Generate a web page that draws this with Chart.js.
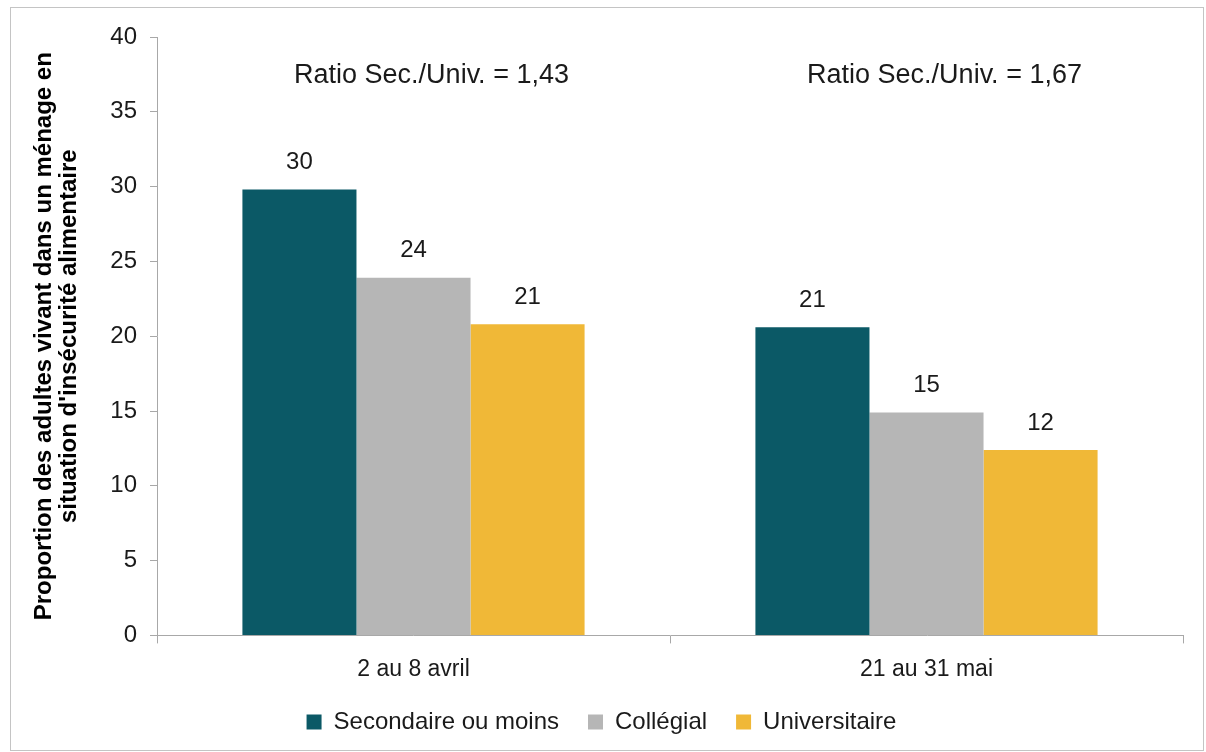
<!DOCTYPE html>
<html>
<head>
<meta charset="utf-8">
<script src="https://cdn.jsdelivr.net/npm/chart.js@4.4.1/dist/chart.umd.min.js"></script>
<style>
    body { margin: 0; background: #fff; }
    #frame { position: absolute; left: 10px; top: 7px; width: 1192px; height: 742px; border: 1px solid #c4c4c4; }
    #wrap { position: absolute; left: 0; top: 0; width: 1206px; height: 752px; }
</style>
</head>
<body>
<div id="frame"></div>
<div id="wrap"><canvas id="chart" width="1206" height="752"></canvas></div>
<script>
let periods = ["2 au 8 avril", "21 au 31 mai"];
let seriesNames = ["Secondaire ou moins", "Collégial", "Universitaire"];
let secondaire = [29.8, 20.6];
let collegial = [23.9, 14.9];
let universitaire = [20.8, 12.4];
let ratioLabels = ["Ratio Sec./Univ. = 1,43", "Ratio Sec./Univ. = 1,67"];
let colors = ["#0b5966", "#b6b6b6", "#f0b837"];

let font = "'Liberation Sans', Arial, sans-serif";

// values above bars + ratio text per group
let labelPlugin = {
    id: "labels",
    afterDatasetsDraw(chart) {
        let ctx = chart.ctx;
        ctx.save();
        ctx.fillStyle = "#1a1a1a";
        ctx.textAlign = "center";
        ctx.textBaseline = "middle";
        ctx.font = "24px " + font;
        chart.data.datasets.forEach((ds, i) => {
            chart.getDatasetMeta(i).data.forEach((bar, j) => {
                ctx.fillText(Math.round(ds.data[j]), bar.x, bar.y - 27);
            });
        });
        ctx.font = "27px " + font;
        let xs = chart.scales.x, ys = chart.scales.y;
        ratioLabels.forEach((t, j) => {
            ctx.fillText(t, xs.getPixelForValue(j) + 18, ys.getPixelForValue(37.4));
        });
        ctx.restore();
    }
};

new Chart(document.getElementById("chart"), {
    type: "bar",
    data: {
        labels: periods,
        datasets: [
            { label: seriesNames[0], data: secondaire, backgroundColor: colors[0] },
            { label: seriesNames[1], data: collegial, backgroundColor: colors[1] },
            { label: seriesNames[2], data: universitaire, backgroundColor: colors[2] }
        ]
    },
    options: {
        responsive: false,
        animation: false,
        devicePixelRatio: 1,
        layout: { padding: { left: 20, right: 23, top: 37, bottom: 8 } },
        datasets: { bar: { categoryPercentage: 0.667, barPercentage: 1.0 } },
        plugins: {
            tooltip: { enabled: false },
            legend: {
                position: "bottom",
                labels: {
                    font: { family: font, size: 24 },
                    color: "#1a1a1a",
                    boxWidth: 15,
                    boxHeight: 15,
                    padding: 29
                }
            }
        },
        scales: {
            y: {
                min: 0,
                max: 40,
                ticks: { stepSize: 5, font: { family: font, size: 24 }, color: "#1a1a1a", padding: 13 },
                grid: { drawOnChartArea: false, tickLength: 7, color: "#a8a8a8" },
                border: { color: "#a8a8a8" },
                title: {
                    display: true,
                    text: ["Proportion des adultes vivant dans un ménage en", "situation d'insécurité alimentaire"],
                    font: { family: font, size: 24, weight: "bold", lineHeight: 1.05 },
                    color: "#000",
                    padding: { top: 12, bottom: 10 }
                },
                afterFit(scale) { scale.width = 137; }
            },
            x: {
                ticks: { font: { family: font, size: 23 }, color: "#1a1a1a", padding: 12 },
                grid: { drawOnChartArea: false, tickLength: 8, color: "#a8a8a8", offset: true },
                border: { color: "#a8a8a8" },
                afterFit(scale) { scale.height -= 14; }
            }
        }
    },
    plugins: [labelPlugin]
});
</script>
</body>
</html>
